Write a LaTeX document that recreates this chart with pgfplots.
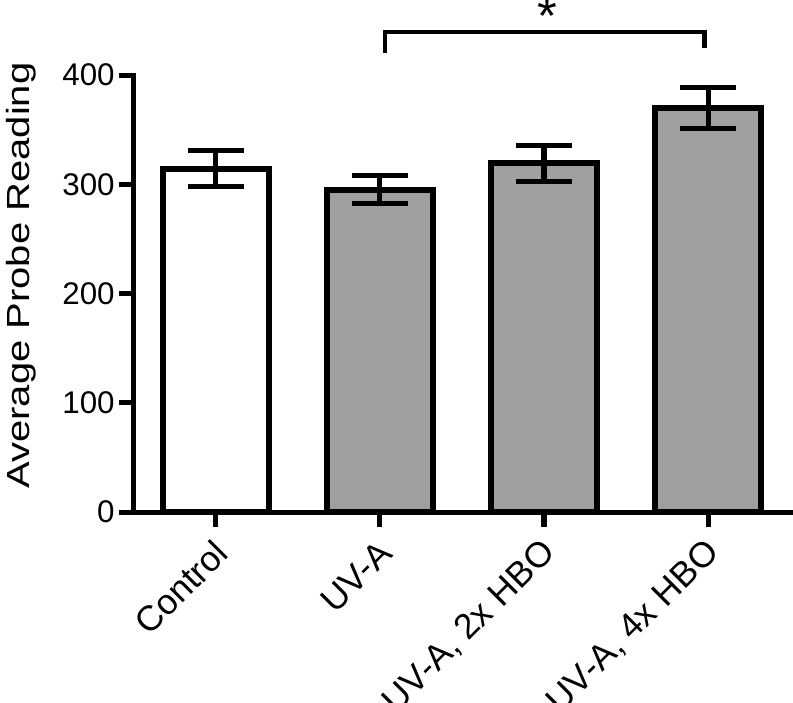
\documentclass[border=0pt]{standalone}
\usepackage{fontspec}
\setmainfont{Liberation Sans}
\newfontfamily\labfont{Liberation Sans}[FakeStretch=1.25]
\usepackage{pgfplots}
\pgfplotsset{compat=1.18}
\definecolor{bargray}{RGB}{160,160,160}
\begin{document}
\begin{tikzpicture}
\path[use as bounding box] (-100.5pt,-143.25pt) rectangle (494.25pt,384pt);
\begin{axis}[
  at={(0,0)}, anchor=south west,
  scale only axis, width=492pt, height=327.75pt,
  xmin=-0.5, xmax=3.5, ymin=0, ymax=400,
  axis lines=left,
  axis line style={-, line width=3.75pt, line cap=rect, black},
  ytick={0,100,200,300,400},
  xtick={0,1,2,3},
  xticklabels={Control, UV-A, {UV-A, 2x HBO}, {UV-A, 4x HBO}},
  tick align=outside, major tick length=11pt,
  tick style={line width=3.75pt, black},
  /pgf/number format/assume math mode=true,
  yticklabel style={font=\fontsize{23.5}{28}\selectfont},
  xticklabel style={font=\fontsize{26.5}{30}\selectfont, xshift=6.5pt, yshift=-13pt, rotate=45, anchor=east},
  ylabel={Average Probe Reading},
  ylabel style={font=\labfont\fontsize{24}{28}\selectfont, at={(axis description cs:-0.172,0.541)}, anchor=center},
  ybar, bar width=0.65,
  clip=false,
]
\addplot[bar shift=0pt, fill=white, draw=black, line width=4.5pt,
  error bars/.cd, y dir=both, y explicit,
  error bar style={line width=3.75pt, black},
  error mark options={rotate=90, mark size=21pt, line width=3.75pt, black}]
  coordinates {(0,314) +- (0,16.5)};
\addplot[bar shift=0pt, fill=bargray, draw=black, line width=4.5pt,
  error bars/.cd, y dir=both, y explicit,
  error bar style={line width=3.75pt, black},
  error mark options={rotate=90, mark size=21pt, line width=3.75pt, black}]
  coordinates {(1,295) +- (0,13) (2,319) +- (0,16.5) (3,370) +- (0,19)};
\draw[line width=3.5pt] (axis cs:1.03,420) -- (axis cs:1.03,439.4) -- (axis cs:2.98,439.4) -- (axis cs:2.98,424.7);
\node[font=\fontsize{38}{38}\selectfont, inner sep=0pt] at (axis cs:2.02,454) {*};
\end{axis}
\end{tikzpicture}
\end{document}
